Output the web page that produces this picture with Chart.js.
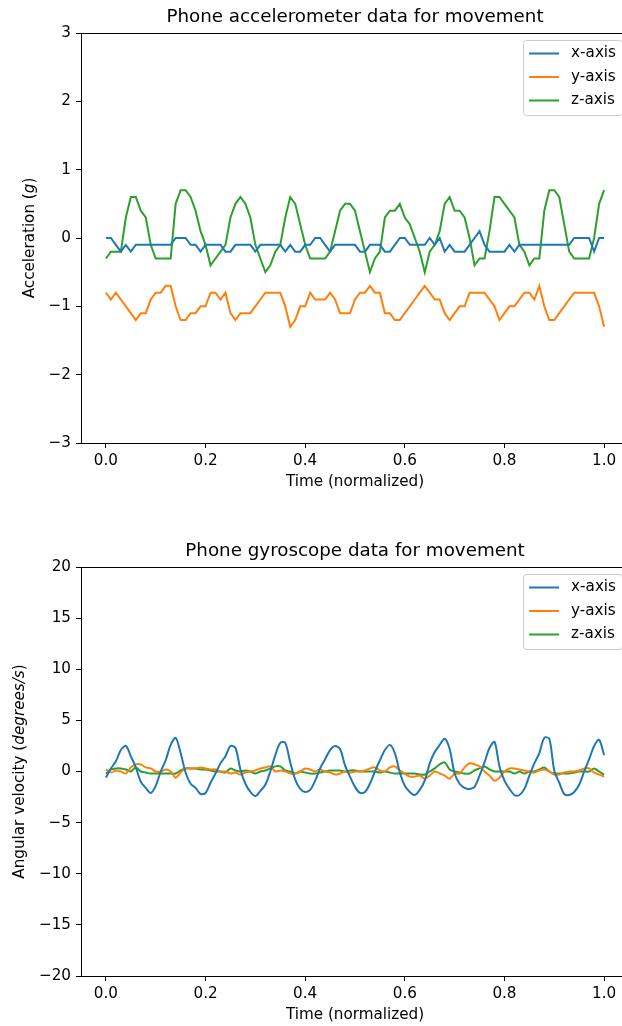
<!DOCTYPE html>
<html lang="en">
<head>
<meta charset="UTF-8">
<title>Phone movement sensor data</title>
<script src="https://cdn.jsdelivr.net/npm/chart.js@4.4.1/dist/chart.umd.min.js"></script>
<style>
  html, body { margin: 0; padding: 0; background: #fff; overflow: hidden; width: 622px; height: 1026px; }
  canvas { position: absolute; left: 0; }
  #accChart { top: 0; }
  #gyroChart { top: 513px; }
</style>
</head>
<body>
<canvas id="accChart" width="640" height="513"></canvas>
<canvas id="gyroChart" width="640" height="513"></canvas>
<script>
// normalized time, 101 samples
const time = [
  0.00, 0.01, 0.02, 0.03, 0.04, 0.05, 0.06, 0.07, 0.08, 0.09,
  0.10, 0.11, 0.12, 0.13, 0.14, 0.15, 0.16, 0.17, 0.18, 0.19,
  0.20, 0.21, 0.22, 0.23, 0.24, 0.25, 0.26, 0.27, 0.28, 0.29,
  0.30, 0.31, 0.32, 0.33, 0.34, 0.35, 0.36, 0.37, 0.38, 0.39,
  0.40, 0.41, 0.42, 0.43, 0.44, 0.45, 0.46, 0.47, 0.48, 0.49,
  0.50, 0.51, 0.52, 0.53, 0.54, 0.55, 0.56, 0.57, 0.58, 0.59,
  0.60, 0.61, 0.62, 0.63, 0.64, 0.65, 0.66, 0.67, 0.68, 0.69,
  0.70, 0.71, 0.72, 0.73, 0.74, 0.75, 0.76, 0.77, 0.78, 0.79,
  0.80, 0.81, 0.82, 0.83, 0.84, 0.85, 0.86, 0.87, 0.88, 0.89,
  0.90, 0.91, 0.92, 0.93, 0.94, 0.95, 0.96, 0.97, 0.98, 0.99,
  1.00
];

// accelerometer (g)
const accX = [
  0.0, 0.0, -0.1, -0.2, -0.1, -0.2, -0.1, -0.1, -0.1, -0.1,
  -0.1, -0.1, -0.1, -0.1, 0.0, 0.0, 0.0, -0.1, -0.1, -0.2,
  -0.1, -0.1, -0.1, -0.1, -0.2, -0.2, -0.1, -0.1, -0.1, -0.1,
  -0.2, -0.1, -0.1, -0.1, -0.1, -0.1, -0.2, -0.1, -0.2, -0.2,
  -0.1, -0.1, 0.0, 0.0, -0.1, -0.2, -0.1, -0.1, -0.1, -0.1,
  -0.1, -0.2, -0.2, -0.1, -0.1, -0.1, -0.2, -0.2, -0.1, 0.0,
  0.0, -0.1, -0.1, -0.1, -0.1, 0.0, -0.1, 0.0, -0.2, -0.1,
  -0.2, -0.2, -0.2, -0.1, 0.0, 0.1, -0.1, -0.2, -0.2, -0.2,
  -0.2, -0.1, -0.2, -0.1, -0.1, -0.1, -0.1, -0.1, -0.1, -0.1,
  -0.1, -0.1, -0.1, -0.1, 0.0, 0.0, 0.0, 0.0, -0.2, 0.0,
  0.0
];
const accY = [
  -0.8, -0.9, -0.8, -0.9, -1.0, -1.1, -1.2, -1.1, -1.1, -0.9,
  -0.8, -0.8, -0.7, -0.7, -1.0, -1.2, -1.2, -1.1, -1.1, -1.0,
  -1.0, -0.8, -0.8, -0.9, -0.8, -1.1, -1.2, -1.1, -1.1, -1.1,
  -1.0, -0.9, -0.8, -0.8, -0.8, -0.8, -1.0, -1.3, -1.2, -1.0,
  -1.0, -0.8, -0.9, -0.9, -0.9, -0.8, -0.9, -1.1, -1.1, -1.1,
  -0.9, -0.8, -0.8, -0.7, -0.8, -0.8, -1.1, -1.1, -1.2, -1.2,
  -1.1, -1.0, -0.9, -0.8, -0.7, -0.8, -0.9, -0.9, -1.1, -1.2,
  -1.1, -1.0, -1.0, -0.8, -0.8, -0.8, -0.8, -0.9, -1.0, -1.2,
  -1.1, -1.0, -1.0, -0.9, -0.8, -0.8, -0.9, -0.7, -1.0, -1.2,
  -1.2, -1.1, -1.0, -0.9, -0.8, -0.8, -0.8, -0.8, -0.8, -1.0,
  -1.3
];
const accZ = [
  -0.3, -0.2, -0.2, -0.2, 0.3, 0.6, 0.6, 0.4, 0.3, -0.1,
  -0.3, -0.3, -0.3, -0.3, 0.5, 0.7, 0.7, 0.6, 0.4, 0.1,
  -0.1, -0.4, -0.3, -0.2, -0.1, 0.3, 0.5, 0.6, 0.5, 0.3,
  -0.1, -0.3, -0.5, -0.4, -0.2, -0.1, 0.3, 0.6, 0.5, 0.2,
  -0.1, -0.3, -0.3, -0.3, -0.3, -0.2, 0.1, 0.4, 0.5, 0.5,
  0.4, 0.1, -0.2, -0.5, -0.3, -0.2, 0.3, 0.4, 0.4, 0.5,
  0.3, 0.2, 0.0, -0.2, -0.5, -0.2, -0.1, 0.1, 0.5, 0.6,
  0.4, 0.4, 0.3, 0.0, -0.4, -0.3, -0.3, 0.1, 0.6, 0.6,
  0.5, 0.4, 0.3, -0.1, -0.2, -0.4, -0.3, -0.3, 0.4, 0.7,
  0.7, 0.6, 0.2, -0.2, -0.3, -0.3, -0.3, -0.3, 0.0, 0.5,
  0.7
];

// gyroscope (degrees/s)
const gyroX = [
  -0.6, 0.3, 1.0, 2.1, 2.5, 1.5, 0.4, -1.0, -1.6, -2.1,
  -1.4, 0.0, 1.1, 2.6, 3.3, 1.8, -0.1, -1.2, -1.6, -2.2,
  -2.1, -1.1, -0.2, 0.8, 1.5, 2.5, 2.3, 0.2, -1.2, -2.0,
  -2.4, -1.9, -1.3, 0.0, 1.6, 2.8, 2.8, 0.9, -0.8, -1.7,
  -2.0, -1.8, -0.9, 0.3, 1.2, 2.1, 2.5, 2.2, 0.6, -0.5,
  -1.5, -2.1, -2.0, -1.2, 0.0, 1.1, 2.1, 2.6, 1.8, -0.1,
  -1.4, -2.0, -2.3, -1.8, -0.9, 0.8, 1.9, 2.6, 3.2, 2.2,
  -0.2, -1.2, -1.6, -1.7, -1.5, -0.4, 0.9, 2.3, 2.9, 0.5,
  -0.9, -1.7, -2.3, -2.3, -1.7, -0.4, 0.8, 1.8, 3.3, 3.2,
  0.1, -1.1, -2.2, -2.3, -2.0, -1.3, 0.0, 1.2, 2.5, 3.1,
  1.6
];
const gyroY = [
  0.2, -0.1, 0.1, 0.0, -0.2, 0.4, 0.7, 0.7, 0.4, 0.3,
  0.0, 0.0, 0.2, 0.0, -0.6, -0.1, 0.3, 0.3, 0.3, 0.4,
  0.3, 0.2, 0.2, 0.0, 0.0, -0.2, -0.1, -0.3, -0.1, 0.0,
  0.1, 0.3, 0.4, 0.5, 0.0, 0.1, 0.0, -0.2, -0.2, 0.0,
  0.3, 0.2, 0.0, 0.2, 0.0, -0.1, -0.3, -0.2, 0.0, -0.1,
  0.0, 0.0, 0.1, 0.3, 0.4, 0.1, 0.0, 0.4, 0.5, 0.1,
  -0.2, -0.5, -0.5, -0.4, -0.7, -0.4, 0.0, -0.2, -0.4, -0.7,
  -0.2, -0.2, 0.4, 0.8, 0.7, 0.5, 0.0, -0.4, -0.9, -0.6,
  0.0, 0.3, 0.3, 0.2, 0.1, 0.0, -0.1, 0.1, 0.2, 0.0,
  -0.3, -0.3, -0.1, 0.0, 0.0, 0.1, 0.3, 0.3, -0.1, -0.3,
  -0.5
];
const gyroZ = [
  -0.2, 0.2, 0.3, 0.3, 0.2, 0.0, 0.4, 0.0, -0.1, -0.2,
  -0.2, -0.2, -0.2, -0.2, -0.2, 0.1, 0.3, 0.3, 0.3, 0.2,
  0.2, 0.1, 0.0, 0.0, -0.1, 0.3, 0.1, 0.0, 0.1, 0.0,
  -0.2, 0.0, 0.1, 0.3, 0.5, 0.5, 0.1, 0.0, -0.2, 0.0,
  -0.1, -0.2, -0.2, -0.1, 0.0, 0.1, 0.1, 0.1, 0.0, 0.1,
  0.1, 0.0, 0.0, 0.0, 0.0, -0.1, 0.0, -0.1, -0.2, -0.2,
  -0.2, -0.2, -0.2, -0.3, -0.3, 0.0, 0.3, 0.7, 0.9, 0.2,
  0.0, -0.1, -0.2, -0.2, 0.1, 0.3, 0.5, 0.2, 0.0, 0.0,
  0.0, 0.0, -0.2, 0.0, -0.2, 0.0, 0.0, 0.2, 0.4, 0.0,
  -0.2, -0.2, -0.2, -0.2, -0.1, 0.0, 0.0, 0.0, 0.3, 0.0,
  -0.3
];

const seriesLabels = ['x-axis', 'y-axis', 'z-axis'];
const seriesColors = ['#1f77b4', '#ff7f0e', '#2ca02c'];
const timeTicks = [0.0, 0.2, 0.4, 0.6, 0.8, 1.0];

const FONT = 'DejaVu Sans';
const SMALL = 15.2;   // tick labels, axis labels, legend
const BIG = 18.3;     // titles

function minusSign(v) {
  return v < 0 ? '\u2212' + Math.abs(v) : String(v);
}

function font(size, italic) {
  return (italic ? 'italic ' : '') + size + 'px "' + FONT + '"';
}

// matplotlib-like frame, title, axis labels and legend
const mplDecor = {
  id: 'mplDecor',
  afterDraw(chart, args, o) {
    const ctx = chart.ctx;
    const a = chart.chartArea;
    const cx = (a.left + a.right) / 2;
    ctx.save();

    ctx.strokeStyle = '#000';
    ctx.lineWidth = 1;
    ctx.strokeRect(Math.round(a.left) + 0.5, Math.round(a.top) + 0.5,
      Math.round(a.right - a.left), Math.round(a.bottom - a.top));

    ctx.fillStyle = '#000';
    ctx.textAlign = 'center';
    ctx.textBaseline = 'alphabetic';
    ctx.font = font(BIG);
    ctx.fillText(o.title, cx, a.top - 11);

    ctx.font = font(SMALL);
    ctx.textBaseline = 'middle';
    ctx.fillText(o.xlabel, cx, a.bottom + 39);

    // y label: plain text with an italic unit part
    const parts = o.ylabel;
    let total = 0;
    const widths = parts.map(p => {
      ctx.font = font(SMALL, p.italic);
      const w = ctx.measureText(p.text).width;
      total += w;
      return w;
    });
    ctx.save();
    ctx.translate(o.ylabelX, (a.top + a.bottom) / 2);
    ctx.rotate(-Math.PI / 2);
    ctx.textAlign = 'left';
    let px = -total / 2;
    parts.forEach((p, i) => {
      ctx.font = font(SMALL, p.italic);
      ctx.fillText(p.text, px, 0);
      px += widths[i];
    });
    ctx.restore();

    // legend, upper right inside the axes
    ctx.font = font(SMALL);
    const labelW = Math.max(...chart.data.datasets.map(ds => ctx.measureText(ds.label).width));
    const right = a.right - 7;
    const top = a.top + 7;
    const boxW = 6 + 30 + 12 + labelW + 6;
    const boxH = 75;
    const left = right - boxW;
    ctx.beginPath();
    ctx.roundRect(Math.round(left) + 0.5, top + 0.5, Math.round(boxW), boxH, 3);
    ctx.fillStyle = 'rgba(255,255,255,0.8)';
    ctx.fill();
    ctx.strokeStyle = '#cccccc';
    ctx.lineWidth = 1;
    ctx.stroke();

    ctx.textAlign = 'left';
    ctx.textBaseline = 'middle';
    chart.data.datasets.forEach((ds, i) => {
      const y = top + 13.5 + i * 23.5;
      ctx.strokeStyle = ds.borderColor;
      ctx.lineWidth = 2;
      ctx.beginPath();
      ctx.moveTo(left + 6, y);
      ctx.lineTo(left + 36, y);
      ctx.stroke();
      ctx.fillStyle = '#000';
      ctx.fillText(ds.label, left + 48, y);
    });

    ctx.restore();
  }
};

function makeChart(id, values, cfg) {
  const datasets = values.map((vals, i) => ({
    label: seriesLabels[i],
    data: time.map((t, k) => ({ x: t, y: vals[k] })),
    borderColor: seriesColors[i],
    borderWidth: 2,
    pointRadius: 0,
    tension: cfg.tension,
    fill: false
  }));

  return new Chart(document.getElementById(id), {
    type: 'line',
    data: { datasets: datasets },
    plugins: [mplDecor],
    options: {
      responsive: false,
      animation: false,
      devicePixelRatio: 1,
      layout: { padding: { top: cfg.top, right: 11, left: 0, bottom: 0 } },
      plugins: {
        legend: { display: false },
        title: { display: false },
        tooltip: { enabled: false },
        mplDecor: { title: cfg.title, xlabel: 'Time (normalized)', ylabel: cfg.ylabel, ylabelX: cfg.ylabelX }
      },
      scales: {
        x: {
          type: 'linear',
          min: -0.05,
          max: 1.05,
          afterBuildTicks: s => { s.ticks = timeTicks.map(v => ({ value: v })); },
          afterFit: s => { s.height = cfg.xHeight; },
          ticks: {
            callback: v => v.toFixed(1),
            color: '#000',
            font: { family: FONT, size: SMALL },
            padding: 4,
            maxRotation: 0,
            autoSkip: false
          },
          grid: { drawOnChartArea: false, tickLength: 5, tickColor: '#000', tickWidth: 1 },
          border: { display: false }
        },
        y: {
          min: cfg.yMin,
          max: cfg.yMax,
          afterFit: s => { s.width = 81; },
          ticks: {
            stepSize: cfg.yStep,
            callback: v => minusSign(v),
            color: '#000',
            font: { family: FONT, size: SMALL },
            padding: 5
          },
          grid: { drawOnChartArea: false, tickLength: 5, tickColor: '#000', tickWidth: 1 },
          border: { display: false }
        }
      }
    }
  });
}

makeChart('accChart', [accX, accY, accZ], {
  title: 'Phone accelerometer data for movement',
  ylabel: [{ text: 'Acceleration (' }, { text: 'g', italic: true }, { text: ')' }],
  ylabelX: 30,
  top: 33, xHeight: 70,
  yMin: -3, yMax: 3, yStep: 1,
  tension: 0
});

makeChart('gyroChart', [gyroX, gyroY, gyroZ], {
  title: 'Phone gyroscope data for movement',
  ylabel: [{ text: 'Angular velocity (' }, { text: 'degrees/s', italic: true }, { text: ')' }],
  ylabelX: 20,
  top: 54, xHeight: 50,
  yMin: -20, yMax: 20, yStep: 5,
  tension: 0.3
});
</script>
</body>
</html>
